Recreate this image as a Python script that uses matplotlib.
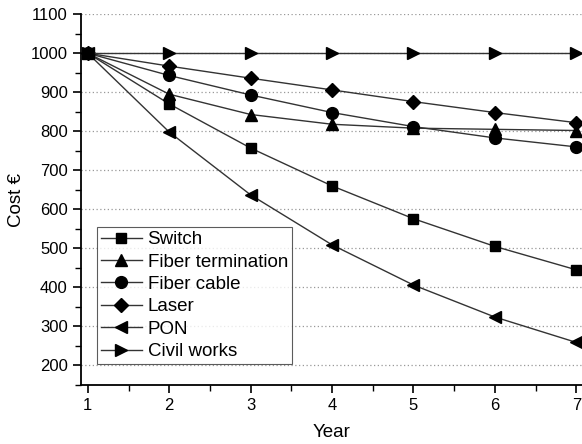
import matplotlib.pyplot as plt
from matplotlib.ticker import MultipleLocator

plt.rcParams['font.family'] = ['Liberation Sans', 'DejaVu Sans']

years = [1, 2, 3, 4, 5, 6, 7]
switch = [1000, 870, 757, 660, 576, 505, 445]
fiber_termination = [1000, 895, 843, 818, 808, 805, 802]
fiber_cable = [1000, 943, 893, 848, 812, 783, 760]
laser = [1000, 967, 936, 906, 876, 848, 822]
pon = [1000, 798, 637, 509, 406, 324, 259]
civil_works = [1000, 1000, 1000, 1000, 1000, 1000, 1000]

series = [
    ('Switch', switch, 's', 7),
    ('Fiber termination', fiber_termination, '^', 8.5),
    ('Fiber cable', fiber_cable, 'o', 8.5),
    ('Laser', laser, 'D', 7),
    ('PON', pon, '<', 8.5),
    ('Civil works', civil_works, '>', 8.5),
]

fig = plt.figure(figsize=(5.82, 4.44), dpi=100)
ax = fig.add_axes([0.139, 0.133, 0.861, 0.835])

for name, vals, mk, ms in series:
    ax.plot(years, vals, color='#333333', lw=1.0, marker=mk, ms=ms,
            mfc='black', mec='black', label=name, clip_on=False, zorder=3)

ax.set_xlim(0.915, 7.07)
ax.set_ylim(150, 1100)
ax.xaxis.set_major_locator(MultipleLocator(1))
ax.xaxis.set_minor_locator(MultipleLocator(0.5))
ax.yaxis.set_major_locator(MultipleLocator(100))
ax.yaxis.set_minor_locator(MultipleLocator(50))

ax.yaxis.grid(True, which='major', linestyle=(0, (1, 2)), color='#999999', lw=0.9)
ax.set_axisbelow(True)

for s in ['top', 'right']:
    ax.spines[s].set_visible(False)
for s in ['left', 'bottom']:
    ax.spines[s].set_linewidth(1.3)

ax.tick_params(which='major', direction='out', length=6, width=1.2, labelsize=12)
ax.tick_params(which='minor', direction='out', length=4, width=1.0)

ax.set_xlabel('Year', fontsize=13.5, labelpad=8)
ax.set_ylabel('Cost €', fontsize=13.5, labelpad=4)

leg = ax.legend(loc='lower left', bbox_to_anchor=(0.032, 0.057), fontsize=13.5,
                frameon=True, fancybox=False, edgecolor='#333333',
                handlelength=2.2, handletextpad=0.3, labelspacing=0.28,
                borderpad=0.2, borderaxespad=0)
leg.get_frame().set_linewidth(0.8)

fig.savefig('out.png', dpi=100)
